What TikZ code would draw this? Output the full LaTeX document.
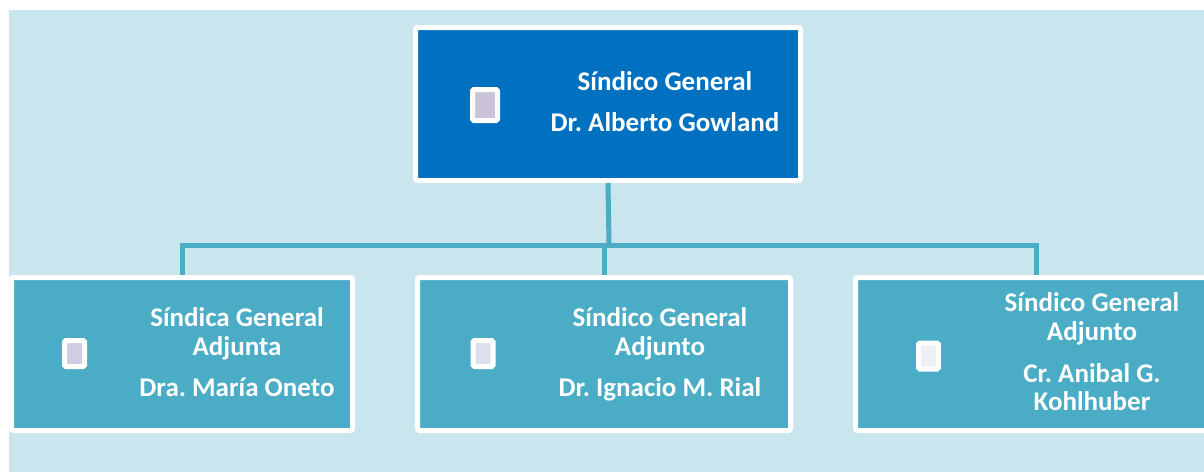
\documentclass[tikz,border=0pt]{standalone}
\usepackage{fontspec}
\setmainfont{Carlito}
\frenchspacing
\definecolor{bgc}{HTML}{C9E5ED}
\definecolor{topc}{HTML}{0070C0}
\definecolor{subc}{HTML}{4BACC6}
\definecolor{iconA}{HTML}{CBC4D8}
\definecolor{iconB}{HTML}{D0CDE2}
\definecolor{iconC}{HTML}{DDE0EB}
\definecolor{iconD}{HTML}{EAF0F4}
\begin{document}
\begin{tikzpicture}[x=1pt,y=-1pt,
  box/.style={draw=white,line width=5pt,rounded corners=2pt,rectangle,inner sep=0pt},
  topbox/.style={box,fill=topc},
  subbox/.style={box,fill=subc},
  icon/.style={draw=white,line width=5pt,rounded corners=1.5pt,rectangle,inner sep=0pt},
  txt/.style={anchor=base,text=white,inner sep=0pt,font=\fontsize{27}{31}\selectfont\bfseries},
  conn/.style={draw=subc,line width=5pt}]
\useasboundingbox (0,0) rectangle (1204,472);
\fill[bgc] (9,10) rectangle (1204,472);
% boxes
\node[topbox,minimum width=385pt,minimum height=153pt] (top) at (608,104) {};
\node[subbox,minimum width=341pt,minimum height=153pt] (left) at (182,354) {};
\node[subbox,minimum width=373pt,minimum height=153pt] (mid) at (604,354) {};
\node[subbox,minimum width=361pt,minimum height=153pt] (right) at (1036,354) {};
% connectors
\coordinate (hub) at (609,245);
\draw[conn] (top.south) -- (hub);
\draw[conn] (hub) -| (left.north);
\draw[conn] (hub) -| (mid.north);
\draw[conn] (hub) -| (right.north);
% icons
\node[icon,fill=iconA,minimum width=25pt,minimum height=31pt] (itop) at (485,105) {};
\node[icon,fill=iconB,minimum width=20pt,minimum height=26pt] (ileft) at (74.5,353.5) {};
\node[icon,fill=iconC,minimum width=20pt,minimum height=26pt] (imid) at (483,353.5) {};
\node[icon,fill=iconD,minimum width=20pt,minimum height=26pt] (iright) at (928.5,356) {};
% texts
\node[txt] (ta) at (665,90.7) {Síndico General};
\node[txt] (tb) at (665,131.7) {Dr. Alberto Gowland};
\node[txt] (la) at (237,326.7) {Síndica General};
\node[txt] (lb) at (237,355.7) {Adjunta};
\node[txt] (lc) at (237,396.7) {Dra. María Oneto};
\node[txt] (ma) at (660,326.7) {Síndico General};
\node[txt] (mb) at (660,355.7) {Adjunto};
\node[txt] (mc) at (660,396.7) {Dr. Ignacio M. Rial};
\node[txt] (ra) at (1092,311.7) {Síndico General};
\node[txt] (rb) at (1092,340.7) {Adjunto};
\node[txt] (rc) at (1092,382.7) {Cr. Anibal G.};
\node[txt] (rd) at (1092,410.7) {Kohlhuber};
\end{tikzpicture}
\end{document}
